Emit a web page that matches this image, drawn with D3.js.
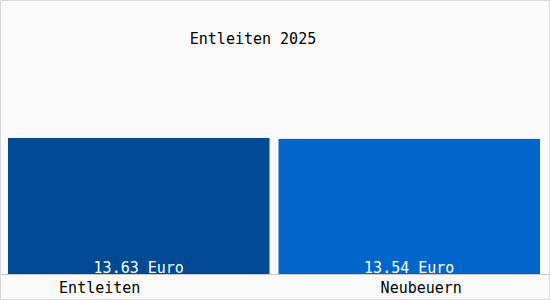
<!DOCTYPE html>
<html>
<head>
<meta charset="utf-8">
<script src="https://cdn.jsdelivr.net/npm/d3@7"></script>
<style>
  html, body { margin: 0; padding: 0; background: #fff; }
  svg { display: block; }
</style>
</head>
<body>
<svg id="chart" width="550" height="300"></svg>
<script>
const title = 'Entleiten 2025';
const categories = ['Entleiten', 'Neubeuern'];
const values = [13.63, 13.54];
const unit = 'Euro';
const barColors = ['#004a93', '#0066cc'];

function renderChart() {
  const width = 550;
  const height = 300;
  const baseY = 274;

  const svg = d3.select('#chart');

  // Hintergrund und Rahmen
  svg.append('rect')
    .attr('x', 0.5).attr('y', 0.5)
    .attr('width', width - 1).attr('height', height - 1)
    .attr('fill', '#fafafa')
    .attr('stroke', '#d8d8d8');

  const xScale = d3.scaleBand()
    .domain(categories)
    .range([8, 540])
    .paddingInner(1 / 30)
    .paddingOuter(0);

  const yScale = d3.scaleLinear()
    .domain([0, d3.max(values)])
    .range([baseY, 138]);

  svg.selectAll('.bar')
    .data(values)
    .enter()
    .append('rect')
    .attr('class', 'bar')
    .attr('x', (d, i) => xScale(categories[i]))
    .attr('y', d => yScale(d))
    .attr('width', xScale.bandwidth())
    .attr('height', d => baseY - yScale(d))
    .attr('fill', (d, i) => barColors[i]);

  // Grundlinie
  svg.append('line')
    .attr('x1', 1).attr('x2', width - 1)
    .attr('y1', baseY + 0.5).attr('y2', baseY + 0.5)
    .attr('stroke', '#c8c8c8');

  const font = '"DejaVu Sans Mono", monospace';

  // Werte
  svg.selectAll('.value')
    .data(values)
    .enter()
    .append('text')
    .attr('x', (d, i) => xScale(categories[i]) + xScale.bandwidth() / 2)
    .attr('y', baseY - 1)
    .attr('text-anchor', 'middle')
    .style('font-family', font)
    .style('font-size', '15px')
    .style('fill', '#fff')
    .text(d => d.toFixed(2) + ' ' + unit);

  // Kategorien
  const labelShift = [-39, 12];
  svg.selectAll('.cat')
    .data(categories)
    .enter()
    .append('text')
    .attr('x', (d, i) => xScale(d) + xScale.bandwidth() / 2 + labelShift[i])
    .attr('y', 293)
    .attr('text-anchor', 'middle')
    .style('font-family', font)
    .style('font-size', '15px')
    .style('fill', '#000')
    .text(d => d);

  // Titel
  svg.append('text')
    .attr('x', 253)
    .attr('y', 44)
    .attr('text-anchor', 'middle')
    .style('font-family', font)
    .style('font-size', '15px')
    .style('fill', '#000')
    .text(title);
}

renderChart();
</script>
</body>
</html>
